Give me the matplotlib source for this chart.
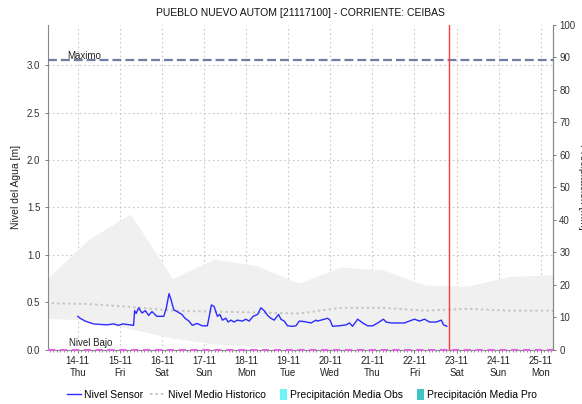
import matplotlib
matplotlib.use("Agg")
import matplotlib.pyplot as plt
import matplotlib.dates as mdates
import pandas as pd
from matplotlib.lines import Line2D
from matplotlib.patches import Patch, Rectangle
from matplotlib.legend_handler import HandlerPatch

plt.rcParams["font.family"] = ["Liberation Sans", "DejaVu Sans"]

# --- data -------------------------------------------------------------
sensor_start = "2019-11-14 00:00"
# hours after sensor_start, water level [m]
sensor_hours = [0, 1.3, 4.2, 9.0, 16.6, 20.4, 23.3, 25.7, 31.8, 32.4, 33.3, 34.7,
                36.6, 38.5, 40.4, 42.3, 45.1, 49.0, 50.5, 52.0, 53.1, 54.7, 56.6,
                59.4, 61.1, 63.4, 65.3, 68.0, 71.0, 73.9, 76.2, 77.7, 79.6, 81.0,
                82.5, 84.4, 85.7, 87.3, 89.1, 91.0, 93.9, 95.8, 97.7, 100.0, 102.5,
                104.4, 106.3, 108.2, 110.1, 112.0, 114.5, 115.8, 117.7, 119.6,
                122.5, 124.4, 126.3, 129.1, 133.0, 135.8, 136.7, 140.6, 142.5,
                143.8, 145.3, 149.1, 153.0, 154.9, 156.7, 159.6, 162.5, 165.3,
                168.2, 171.0, 174.3, 175.8, 178.7, 186.3, 189.1, 192.0, 194.9,
                197.7, 200.6, 204.4, 207.3, 208.6, 210.5]
sensor_level = [0.35, 0.33, 0.30, 0.27, 0.26, 0.27, 0.255, 0.27, 0.255, 0.41, 0.38,
                0.44, 0.385, 0.41, 0.36, 0.40, 0.35, 0.35, 0.44, 0.59, 0.53, 0.42,
                0.40, 0.37, 0.33, 0.30, 0.255, 0.275, 0.25, 0.25, 0.47, 0.455, 0.35,
                0.37, 0.31, 0.33, 0.29, 0.31, 0.29, 0.31, 0.30, 0.32, 0.30, 0.35,
                0.37, 0.44, 0.41, 0.36, 0.33, 0.31, 0.37, 0.32, 0.30, 0.25, 0.245,
                0.25, 0.30, 0.295, 0.28, 0.31, 0.30, 0.32, 0.33, 0.31, 0.245, 0.25,
                0.26, 0.28, 0.245, 0.32, 0.28, 0.25, 0.25, 0.28, 0.32, 0.29, 0.28,
                0.28, 0.30, 0.32, 0.30, 0.32, 0.29, 0.29, 0.31, 0.26, 0.245]

hist_dates = ["2019-11-13 06:00", "2019-11-14 06:00", "2019-11-15 06:00",
              "2019-11-16 06:00", "2019-11-17 06:00", "2019-11-18 06:00",
              "2019-11-19 06:00", "2019-11-20 06:00", "2019-11-21 06:00",
              "2019-11-22 06:00", "2019-11-23 06:00", "2019-11-24 06:00",
              "2019-11-25 06:00", "2019-11-25 12:00"]
hist_upper = [0.74, 1.16, 1.43, 0.75, 0.955, 0.885, 0.70, 0.87, 0.84, 0.68, 0.667,
              0.77, 0.79, 0.79]
hist_lower = [0.33, 0.31, 0.22, 0.12, 0.06, 0.03, 0.01, 0.005, 0.0, 0.0, 0.0,
              0.0, 0.0, 0.0]
hist_mean = [0.49, 0.48, 0.45, 0.41, 0.40, 0.39, 0.38, 0.44, 0.44, 0.41, 0.43,
             0.41, 0.41, 0.41]

nivel_maximo = 3.06
nivel_bajo = 0.0
now_mark = "2019-11-22 19:30"
x_start, x_end = "2019-11-13 07:00", "2019-11-25 07:00"

title = "PUEBLO NUEVO AUTOM [21117100] - CORRIENTE: CEIBAS"

# --- figure -----------------------------------------------------------
W, H = 582, 404
fig = plt.figure(figsize=(W / 100, H / 100), dpi=100)
ax = fig.add_axes([48 / W, 1 - 349.5 / H, (553 - 48) / W, (349.5 - 25) / H])

t_sensor = pd.Timestamp(sensor_start) + pd.to_timedelta(sensor_hours, unit="h")
t_hist = pd.to_datetime(hist_dates)

ax.fill_between(t_hist, hist_lower, hist_upper, color="#f0f0f0", lw=0, zorder=1)
ax.plot(t_hist, hist_mean, color="#c4c4c4", lw=1.4, dashes=(1.2, 1.6), zorder=2)
ax.plot(t_sensor, sensor_level, color="#2b2bff", lw=1.0, zorder=4)

ax.axhline(nivel_maximo, color="#6f7fa3", lw=1.6, dashes=(4, 1.8), zorder=3)
ax.axhline(nivel_bajo, color="#dd66dd", lw=1.5, dashes=(3.5, 2.2), zorder=3,
           clip_on=False)
ax.axvline(pd.Timestamp(now_mark), color="#ff3b3b", lw=1.0, zorder=5)

ax.text(pd.Timestamp("2019-11-13 17:45"), nivel_maximo - 0.015, "Maximo",
        fontsize=7, color="#222222", va="bottom", ha="left", zorder=2.5)
ax.text(pd.Timestamp("2019-11-13 19:00"), nivel_bajo + 0.02, "Nivel Bajo",
        fontsize=7, color="#222222", va="bottom", ha="left", zorder=6)

ax.set_xlim(pd.Timestamp(x_start), pd.Timestamp(x_end))
ax.set_ylim(0, 3.425)
ax.set_yticks([0, 0.5, 1.0, 1.5, 2.0, 2.5, 3.0])
ax.yaxis.set_major_formatter(matplotlib.ticker.FormatStrFormatter("%.1f"))

ax.xaxis.set_major_locator(mdates.DayLocator())
ax.xaxis.set_major_formatter(mdates.DateFormatter("%d-%m\n%a"))
ax.xaxis.set_minor_locator(mdates.HourLocator(byhour=range(0, 24, 2)))

ax.grid(True, which="major", color="#c8c8c8", lw=0.8, linestyle=(0, (1.5, 2.5)))
ax.set_axisbelow(True)

ax.spines["top"].set_visible(False)
for s in ("left", "right", "bottom"):
    ax.spines[s].set_color("#888888")
    ax.spines[s].set_linewidth(0.8)

ax.tick_params(axis="x", which="major", length=2, width=0.6, color="#666666",
               labelsize=7, labelcolor="#222222", pad=3)
ax.tick_params(axis="x", which="minor", length=1.5, width=0.5, color="#666666")
ax.tick_params(axis="y", length=2.5, width=0.6, color="#666666",
               labelsize=7, labelcolor="#333333", pad=3)
ax.set_ylabel("Nivel del Agua [m]", fontsize=7.5, color="#222222", labelpad=4)

ax2 = ax.twinx()
ax2.set_ylim(0, 100)
ax2.set_yticks(range(0, 101, 10))
ax2.tick_params(axis="y", length=2.5, width=0.6, color="#666666",
                labelsize=7, labelcolor="#333333", pad=2)
for s in ("top", "left", "bottom"):
    ax2.spines[s].set_visible(False)
ax2.spines["right"].set_color("#888888")
ax2.spines["right"].set_linewidth(0.8)
fig.text(577.5 / W, 0.5 * ((1 - 349.5 / H) + (1 - 25 / H)), "Precipitación [mm]",
         rotation=270, fontsize=7.5, color="#222222", ha="left", va="center")

fig.text(0.5 * (48 + 553) / W, 1 - 13 / H, title, fontsize=7.5,
         color="#111111", ha="center", va="center")


class NarrowPatch(HandlerPatch):
    def create_artists(self, legend, orig_handle, xdescent, ydescent, width,
                       height, fontsize, trans):
        w = 5
        r = Rectangle((width - w - xdescent, -ydescent - 1.5), w, height + 3,
                      facecolor=orig_handle.get_facecolor(), edgecolor="none",
                      transform=trans)
        return [r]


handles = [
    Line2D([], [], color="#2b2bff", lw=1.0),
    Line2D([], [], color="#c4c4c4", lw=1.4, dashes=(1.2, 1.6)),
    Patch(facecolor="#6cf6f6"),
    Patch(facecolor="#41c4c4"),
]
labels = ["Nivel Sensor", "Nivel Medio Historico", "Precipitación Media Obs",
          "Precipitación Media Pro"]
fig.legend(handles, labels, loc="center", bbox_to_anchor=(302 / W, 1 - 395 / H),
           ncol=4, frameon=False, fontsize=7.5, handlelength=1.35,
           handletextpad=0.3, columnspacing=0.7,
           handler_map={Patch: NarrowPatch()})

fig.savefig("out.png", dpi=100)
